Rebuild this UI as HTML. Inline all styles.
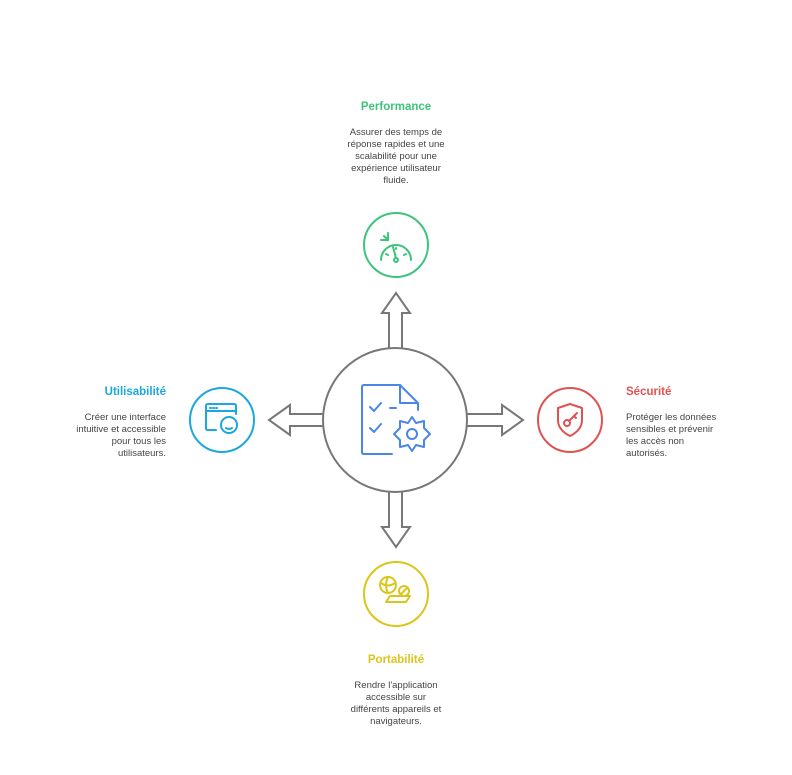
<!DOCTYPE html>
<html><head><meta charset="utf-8"><style>
html,body{margin:0;padding:0;background:#fff;}
body{width:792px;height:775px;position:relative;overflow:hidden;font-family:"Liberation Sans",sans-serif;}
.t{position:absolute;font-weight:bold;font-size:11.5px;}
.d{position:absolute;font-size:9.5px;line-height:12px;color:#444;white-space:nowrap;}
</style></head><body>
<svg width="792" height="775" style="position:absolute;left:0;top:0" fill="none">
<g stroke="#777" stroke-width="2" stroke-linejoin="miter">
<circle cx="395" cy="420" r="72"/>
<path d="M389,349 V313 H382 L396,293 L410,313 H402 V349"/>
<path d="M389,491 V527 H382 L396,547 L410,527 H402 V491"/>
<path d="M324,414 H290 V405 L269,420 L290,435 V426 H324"/>
<path d="M466,414 H502 V405 L523,420 L502,435 V426 H466"/>
</g>
<g stroke="#4a86e8" stroke-width="2" stroke-linecap="round" stroke-linejoin="round">
<path d="M392,454 H364 Q362,454 362,452 V387 Q362,385 364,385 H400 L418,403 V410"/>
<path d="M400,385 V403 H418"/>
<path d="M370,407 L374,411 L381,403"/>
<path d="M370,428 L374,432 L381,424"/>
<path d="M390,408 H396"/>
<circle cx="412" cy="434" r="5"/>
<path d="M412,417 L416,423 L424,421 L424,428 L430,434 L424,440 L424,447 L416,445 L412,451 L408,445 L400,447 L400,440 L394,434 L400,428 L400,421 L408,423 Z"/>
</g>
<circle cx="396" cy="245" r="32" stroke="#3cc47c" stroke-width="2"/>
<circle cx="222" cy="420" r="32" stroke="#1ba8dc" stroke-width="2"/>
<circle cx="570" cy="420" r="32" stroke="#e05252" stroke-width="2"/>
<circle cx="396" cy="594" r="32" stroke="#dcc51a" stroke-width="2"/>
<g stroke="#3cc47c" stroke-width="2" stroke-linecap="round">
<path d="M381,260 A15,15 0 0 1 411,260"/>
<path d="M384,236 L388,240 M388,233 V240 H381" />
<path d="M393,247 L396,258"/><circle cx="396" cy="260" r="2"/>
<path d="M386,254 L388,255 M406,254 L404,255 M396,248 V249"/>
</g>
<g stroke="#1ba8dc" stroke-width="2" stroke-linecap="round" stroke-linejoin="round">
<path d="M216,430 H208 Q206,430 206,428 V406 Q206,404 208,404 H234 Q236,404 236,406 V414"/>
<path d="M206,411 H236"/>
<path d="M210,408 H211 M213,408 H214 M216,408 H217"/>
<circle cx="229" cy="425" r="8"/>
<path d="M226,428 Q229,430 232,428"/>
</g>
<g stroke="#e05252" stroke-width="2" stroke-linecap="round" stroke-linejoin="round">
<path d="M570,404 L582,408 V420 Q582,430 570,436 Q558,430 558,420 V408 Z"/>
<circle cx="567" cy="423" r="3"/>
<path d="M569,421 L577,413 M574,416 L576,418"/>
</g>
<g stroke="#dcc51a" stroke-width="2" stroke-linecap="round" stroke-linejoin="round">
<circle cx="388" cy="585" r="8"/>
<path d="M381,583 Q388,588 395,583 M388,577 Q384,585 388,593"/>
<path d="M386,602 L390,596 H410 L406,602 Z"/>
<circle cx="404" cy="591" r="5"/>
<path d="M401,594 L407,588"/>
</g>
</svg>
<div class="t" style="left:330px;width:132px;text-align:center;top:101px;color:#3cc47c">Performance</div>
<div class="d" style="left:330px;width:132px;text-align:center;top:127px">Assurer des temps de<br>réponse rapides et une<br>scalabilité pour une<br>expérience utilisateur<br>fluide.</div>
<div class="t" style="left:40px;width:126px;text-align:right;top:386px;color:#1ba8dc">Utilisabilité</div>
<div class="d" style="left:40px;width:126px;text-align:right;top:412px">Créer une interface<br>intuitive et accessible<br>pour tous les<br>utilisateurs.</div>
<div class="t" style="left:626px;width:130px;top:386px;color:#e05252">Sécurité</div>
<div class="d" style="left:626px;width:130px;top:412px">Protéger les données<br>sensibles et prévenir<br>les accès non<br>autorisés.</div>
<div class="t" style="left:330px;width:132px;text-align:center;top:654px;color:#dcc51a">Portabilité</div>
<div class="d" style="left:330px;width:132px;text-align:center;top:680px">Rendre l'application<br>accessible sur<br>différents appareils et<br>navigateurs.</div>
</body></html>
